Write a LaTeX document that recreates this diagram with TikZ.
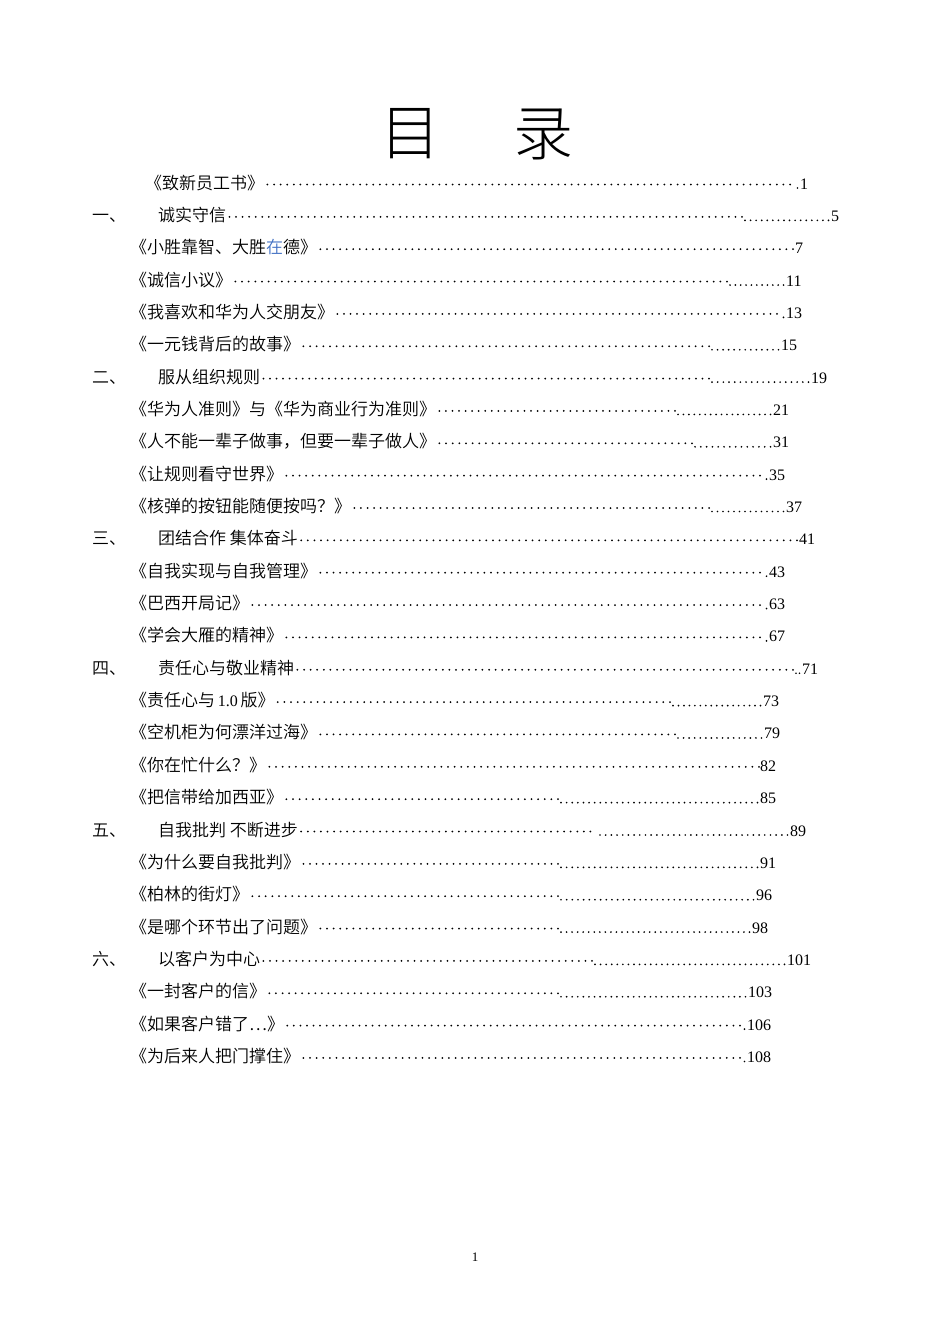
\documentclass[tikz,border=0pt]{standalone}
\usepackage{fontspec}
\setmainfont{Liberation Serif}
\newfontfamily\cjk{Noto Sans CJK SC}[UprightFont={* DemiLight}]
\newfontfamily\cjklight{Noto Sans CJK SC}[UprightFont={* Light}]
\definecolor{inkblue}{RGB}{68,114,196}
\newcommand\lat[1]{{\rmfamily\fontsize{16}{18}\selectfont #1}}
\newdimen\tocxa
\tikzset{
 ttl/.style={font=\cjk\fontsize{17}{19}\selectfont, inner sep=0pt, anchor=base west},
 pnum/.style={font=\fontsize{16}{18}\selectfont, inner sep=0pt, anchor=base west},
 middots/.style={line width=2pt, line cap=round, dash pattern=on 0pt off #1pt},
 basedots/.style={line width=1.9pt, line cap=round, dash pattern=on 0pt off #1pt},
 bigttl/.style={font=\cjklight\fontsize{60}{64}\selectfont, inner sep=0pt},
 footnum/.style={font=\fontsize{13}{15}\selectfont, inner sep=0pt},
}
\newcommand\tocrow[7]{%
  \pgfmathsetmacro\tocb{189+32.35*(#2-1)}%
  \node[ttl] (#1) at (#3,\tocb) {#4};
  \node[pnum] (#1n) at (#6,\tocb) {#7};
  \coordinate (#1a) at ([xshift=3pt,yshift=4.5pt]#1.base east);
  \coordinate (#1m) at (#5,\tocb-4.5);
  \pgfextractx{\tocxa}{\pgfpointanchor{#1a}{center}}%
  \pgfmathsetmacro\tocml{#5-\tocxa}%
  \pgfmathsetmacro\tocms{\tocml/max(1,round(\tocml/6.6))}%
  \draw[middots=\tocms] (#1a) -- (#1m);
  \pgfmathsetmacro\tocgap{#6-#5}%
  \ifdim\tocgap pt>6pt
    \pgfmathsetmacro\toclen{#6-#5-5.5}%
    \pgfmathsetmacro\tocsp{\toclen/max(1,round(\toclen/5.6))}%
    \coordinate (#1s) at (#5+3,\tocb-1);
    \coordinate (#1e) at (#6-2.5,\tocb-1);
    \draw[basedots=\tocsp] (#1e) -- (#1s);
  \fi
}
\newcommand\tocsec[7]{%
  \pgfmathsetmacro\tocbb{189+32.35*(#2-1)}%
  \node[ttl] (#1l) at (92,\tocbb) {#3};
  \tocrow{#1}{#2}{158}{#4}{#5}{#6}{#7}%
}
\begin{document}
\begin{tikzpicture}[x=1pt,y=-1pt]
\fill[white] (0,0) rectangle (950,1344);
\useasboundingbox (0,0) rectangle (950,1344);
\node[bigttl] (t1) at (410,134) {目};
\node[bigttl] (t2) at (543,134) {录};
\tocrow{r1}{1}{145}{《致新员工书》}{790}{800}{1}
\tocsec{r2}{2}{一、}{诚实守信}{742}{831}{5}
\tocrow{r3}{3}{130}{《小胜靠智、大胜\textcolor{inkblue}{在}德》}{793}{795}{7}
\tocrow{r4}{4}{130}{《诚信小议》}{727}{786}{11}
\tocrow{r5}{5}{130}{《我喜欢和华为人交朋友》}{777}{786}{13}
\tocrow{r6}{6}{130}{《一元钱背后的故事》}{709}{781}{15}
\tocsec{r7}{7}{二、}{服从组织规则}{709}{811}{19}
\tocrow{r8}{8}{130}{《华为人准则》与《华为商业行为准则》}{675}{773}{21}
\tocrow{r9}{9}{130}{《人不能一辈子做事，但要一辈子做人》}{692}{773}{31}
\tocrow{r10}{10}{130}{《让规则看守世界》}{760}{769}{35}
\tocrow{r11}{11}{130}{《核弹的按钮能随便按吗？》}{709}{786}{37}
\tocsec{r12}{12}{三、}{团结合作 集体奋斗}{797}{799}{41}
\tocrow{r13}{13}{130}{《自我实现与自我管理》}{760}{769}{43}
\tocrow{r14}{14}{130}{《巴西开局记》}{760}{769}{63}
\tocrow{r15}{15}{130}{《学会大雁的精神》}{760}{769}{67}
\tocsec{r16}{16}{四、}{责任心与敬业精神}{793}{802}{71}
\tocrow{r17}{17}{130}{《责任心与\lat{\,1.0\,}版》}{670}{763}{73}
\tocrow{r18}{18}{130}{《空机柜为何漂洋过海》}{675}{764}{79}
\tocrow{r19}{19}{130}{《你在忙什么？》}{759}{760}{82}
\tocrow{r20}{20}{130}{《把信带给加西亚》}{558}{760}{85}
\tocsec{r21}{21}{五、}{自我批判 不断进步}{597}{790}{89}
\tocrow{r22}{22}{130}{《为什么要自我批判》}{558}{760}{91}
\tocrow{r23}{23}{130}{《柏林的街灯》}{558}{756}{96}
\tocrow{r24}{24}{130}{《是哪个环节出了问题》}{558}{752}{98}
\tocsec{r25}{25}{六、}{以客户为中心}{592}{787}{101}
\tocrow{r26}{26}{130}{《一封客户的信》}{558}{748}{103}
\tocrow{r27}{27}{130}{《如果客户错了…》}{740}{747}{106}
\tocrow{r28}{28}{130}{《为后来人把门撑住》}{740}{747}{108}
\node[footnum] (pg) at (475,1257) {1};
\end{tikzpicture}
\end{document}
